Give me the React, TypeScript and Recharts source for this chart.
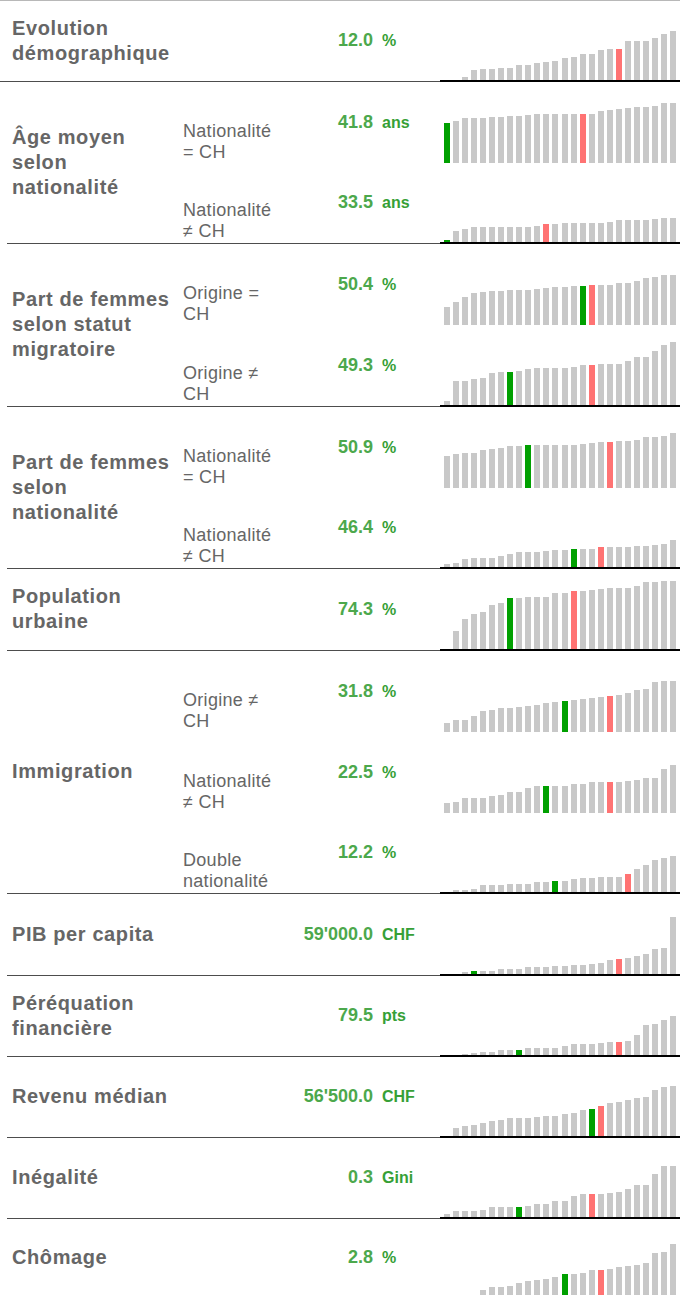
import React from "react";
import { BarChart, Bar, XAxis, YAxis, Cell } from "recharts";

// 26 cantons, sorted ascending within each indicator
const slots = [
  "1", "2", "3", "4", "5", "6", "7", "8", "9", "10", "11", "12", "13",
  "14", "15", "16", "17", "18", "19", "20", "21", "22", "23", "24", "25", "26",
];

// bar values (relative scale 0–80)
const evolutionDemo = [0, 0, 3, 10, 11, 11, 12, 12, 15, 15, 17, 18, 19, 22, 23, 26, 26, 30, 31, 31, 39, 40, 40, 43, 47, 50];
const ageCH = [40, 41, 44, 44, 44, 45, 45, 46, 46, 47, 48, 48, 48, 48, 48, 48, 48, 51, 52, 53, 54, 55, 55, 56, 59, 59];
const ageNonCH = [2, 11, 13, 15, 15, 15, 15, 15, 15, 15, 16, 18, 18, 19, 19, 19, 19, 19, 20, 22, 22, 22, 22, 23, 24, 24];
const femmesOrigineCH = [18, 23, 28, 32, 33, 34, 34, 35, 35, 35, 36, 37, 38, 38, 39, 39, 40, 40, 40, 41, 41, 43, 46, 47, 49, 49];
const femmesOrigineNonCH = [4, 24, 24, 26, 27, 32, 33, 33, 34, 36, 37, 37, 37, 37, 38, 40, 40, 41, 41, 41, 44, 48, 48, 54, 60, 63];
const femmesNatCH = [32, 34, 35, 35, 38, 39, 40, 41, 41, 42, 42, 42, 42, 42, 42, 43, 44, 45, 45, 46, 46, 47, 50, 50, 51, 54];
const femmesNatNonCH = [3, 4, 8, 9, 9, 9, 11, 13, 15, 15, 15, 16, 17, 17, 18, 18, 18, 20, 20, 20, 20, 21, 21, 22, 23, 27];
const popUrbaine = [0, 18, 30, 35, 37, 44, 46, 51, 51, 52, 52, 52, 56, 56, 58, 58, 59, 60, 61, 61, 61, 63, 67, 67, 68, 68];
const immOrigineNonCH = [9, 12, 12, 16, 21, 22, 24, 24, 25, 26, 27, 29, 30, 31, 32, 33, 34, 35, 36, 37, 39, 41, 42, 49, 50, 50];
const immNatNonCH = [10, 11, 15, 15, 15, 17, 18, 21, 21, 25, 27, 27, 27, 27, 29, 29, 31, 31, 31, 31, 32, 33, 35, 35, 43, 47];
const immDouble = [0, 2, 2, 3, 7, 7, 7, 8, 8, 8, 10, 10, 11, 11, 13, 14, 14, 15, 15, 15, 18, 23, 27, 32, 34, 36];
const pibCapita = [0, 0.5, 2, 3, 3, 3, 5, 5, 5, 7, 7, 7, 8, 8, 9, 9, 10, 11, 14, 15, 16, 18, 20, 25, 26, 57];
const perequation = [0, 0, 1, 2, 3, 3, 5, 5, 5, 7, 7, 7, 7, 9, 11, 11, 11, 12, 13, 13, 14, 20, 30, 31, 35, 40];
const revenuMedian = [0, 8, 10, 11, 13, 15, 16, 18, 18, 18, 19, 20, 20, 22, 23, 26, 27, 30, 33, 34, 36, 38, 39, 47, 50, 51];
const inegalite = [3, 6, 6, 6, 7, 10, 10, 10, 10, 11, 13, 13, 16, 16, 21, 23, 23, 23, 24, 25, 28, 32, 32, 44, 52, 52];
const chomage = [0, 0, 0, 0, 5, 8, 8, 10, 13, 15, 16, 17, 19, 22, 22, 23, 26, 26, 27, 30, 31, 32, 34, 44, 45, 54];

const GRAY = "#c8c8c8";
const GREEN = "#00a000";
const RED = "#ff7373";

interface SubRow {
  label?: string;
  value: string;
  unit: string;
  bars: number[];
  green: number;
  red: number;
}

interface Group {
  title: string;
  rows: SubRow[];
}

const groups: Group[] = [
  { title: "Evolution démographique", rows: [{ value: "12.0", unit: "%", bars: evolutionDemo, green: 0, red: 19 }] },
  {
    title: "Âge moyen selon nationalité",
    rows: [
      { label: "Nationalité = CH", value: "41.8", unit: "ans", bars: ageCH, green: 0, red: 15 },
      { label: "Nationalité ≠ CH", value: "33.5", unit: "ans", bars: ageNonCH, green: 0, red: 11 },
    ],
  },
  {
    title: "Part de femmes selon statut migratoire",
    rows: [
      { label: "Origine = CH", value: "50.4", unit: "%", bars: femmesOrigineCH, green: 15, red: 16 },
      { label: "Origine ≠ CH", value: "49.3", unit: "%", bars: femmesOrigineNonCH, green: 7, red: 16 },
    ],
  },
  {
    title: "Part de femmes selon nationalité",
    rows: [
      { label: "Nationalité = CH", value: "50.9", unit: "%", bars: femmesNatCH, green: 9, red: 18 },
      { label: "Nationalité ≠ CH", value: "46.4", unit: "%", bars: femmesNatNonCH, green: 14, red: 17 },
    ],
  },
  { title: "Population urbaine", rows: [{ value: "74.3", unit: "%", bars: popUrbaine, green: 7, red: 14 }] },
  {
    title: "Immigration",
    rows: [
      { label: "Origine ≠ CH", value: "31.8", unit: "%", bars: immOrigineNonCH, green: 13, red: 18 },
      { label: "Nationalité ≠ CH", value: "22.5", unit: "%", bars: immNatNonCH, green: 11, red: 18 },
      { label: "Double nationalité", value: "12.2", unit: "%", bars: immDouble, green: 12, red: 20 },
    ],
  },
  { title: "PIB per capita", rows: [{ value: "59'000.0", unit: "CHF", bars: pibCapita, green: 3, red: 19 }] },
  { title: "Péréquation financière", rows: [{ value: "79.5", unit: "pts", bars: perequation, green: 8, red: 19 }] },
  { title: "Revenu médian", rows: [{ value: "56'500.0", unit: "CHF", bars: revenuMedian, green: 16, red: 17 }] },
  { title: "Inégalité", rows: [{ value: "0.3", unit: "Gini", bars: inegalite, green: 8, red: 16 }] },
  { title: "Chômage", rows: [{ value: "2.8", unit: "%", bars: chomage, green: 13, red: 17 }] },
];

// layout
const groupHeights = [81, 162, 163, 162, 82, 243, 82, 81, 81, 81, 76];
const SUB_H = 81;
const CHART_LEFT = 442;
const CHART_W = 236;

const PixelBar = (props: any) => {
  const { x, y, width, height, fill } = props;
  if (!height || height <= 0) return <g />;
  const top = Math.round(y);
  const bottom = Math.round(y + height);
  if (bottom - top < 1) return <g />;
  return <rect x={Math.floor(x)} y={top} width={Math.round(width)} height={bottom - top} fill={fill} />;
};

const Spark: React.FC<{ row: SubRow; height: number }> = ({ row, height }) => {
  const data = row.bars.map((v, i) => ({ slot: slots[i], value: v }));
  return (
    <BarChart width={CHART_W} height={height} data={data} margin={{ top: 0, right: 0, bottom: 0, left: 0 }}>
      <XAxis dataKey="slot" hide />
      <YAxis hide domain={[0, 80]} />
      <Bar dataKey="value" barSize={6} isAnimationActive={false} shape={PixelBar}>
        {data.map((d, i) => (
          <Cell key={d.slot} fill={i === row.green ? GREEN : i === row.red ? RED : GRAY} />
        ))}
      </Bar>
    </BarChart>
  );
};

const titleStyle: React.CSSProperties = {
  fontFamily: '"Liberation Sans", Arial, sans-serif',
  fontWeight: 700,
  fontSize: 20,
  letterSpacing: 0.6,
  lineHeight: "25px",
  color: "#666",
};

const labelStyle: React.CSSProperties = {
  fontFamily: '"Liberation Sans", Arial, sans-serif',
  fontSize: 18,
  letterSpacing: 0.3,
  lineHeight: "21px",
  color: "#666",
};

export default function App() {
  let top = 1;
  const items: React.ReactNode[] = [];
  groups.forEach((g, gi) => {
    const H = groupHeights[gi];
    const isLast = gi === groups.length - 1;
    const inner = isLast ? H : H - 2;
    const T = top;
    items.push(
      <div
        key={`t${gi}`}
        style={{ position: "absolute", left: 12, top: T, width: 162, height: inner, display: "flex", alignItems: "center" }}
      >
        <div style={titleStyle}>{g.title}</div>
      </div>
    );
    g.rows.forEach((r, ri) => {
      const subTop = T + SUB_H * ri;
      const subBottom = ri === g.rows.length - 1 ? T + inner : subTop + SUB_H;
      const h = subBottom - subTop;
      if (r.label) {
        items.push(
          <div
            key={`l${gi}-${ri}`}
            style={{ position: "absolute", left: 183, top: subTop, width: 100, height: h, display: "flex", alignItems: "flex-end" }}
          >
            <div style={labelStyle}>{r.label}</div>
          </div>
        );
      }
      items.push(
        <div
          key={`v${gi}-${ri}`}
          style={{ position: "absolute", left: 250, top: subTop, width: 190, height: h, display: "flex", alignItems: "center" }}
        >
          <div style={{ fontFamily: '"Liberation Sans", Arial, sans-serif', fontWeight: 700, whiteSpace: "nowrap" }}>
            <span style={{ display: "inline-block", width: 123, textAlign: "right", fontSize: 18, color: "#4ca84c" }}>
              {r.value}
            </span>
            <span style={{ marginLeft: 9, fontSize: 16, color: "#36a036" }}>{r.unit}</span>
          </div>
        </div>
      );
      items.push(
        <div key={`c${gi}-${ri}`} style={{ position: "absolute", left: CHART_LEFT, top: subTop, width: CHART_W, height: h }}>
          <Spark row={r} height={h} />
        </div>
      );
    });
    if (!isLast) {
      items.push(
        <div
          key={`s${gi}`}
          style={{ position: "absolute", left: gi === 0 ? 0 : 7, top: T + H - 1, width: 440 - (gi === 0 ? 0 : 7), height: 1, background: "#4d4d4d" }}
        />
      );
      items.push(
        <div key={`b${gi}`} style={{ position: "absolute", left: 440, top: T + H - 2, width: 240, height: 2, background: "#000" }} />
      );
    }
    top += H;
  });

  return (
    <div style={{ position: "relative", width: 680, height: 1295, overflow: "hidden", background: "#fff" }}>
      <style>{"body{margin:0}"}</style>
      <div style={{ position: "absolute", left: 0, top: 0, width: 680, height: 1, background: "#b8b8b8" }} />
      {items}
    </div>
  );
}
